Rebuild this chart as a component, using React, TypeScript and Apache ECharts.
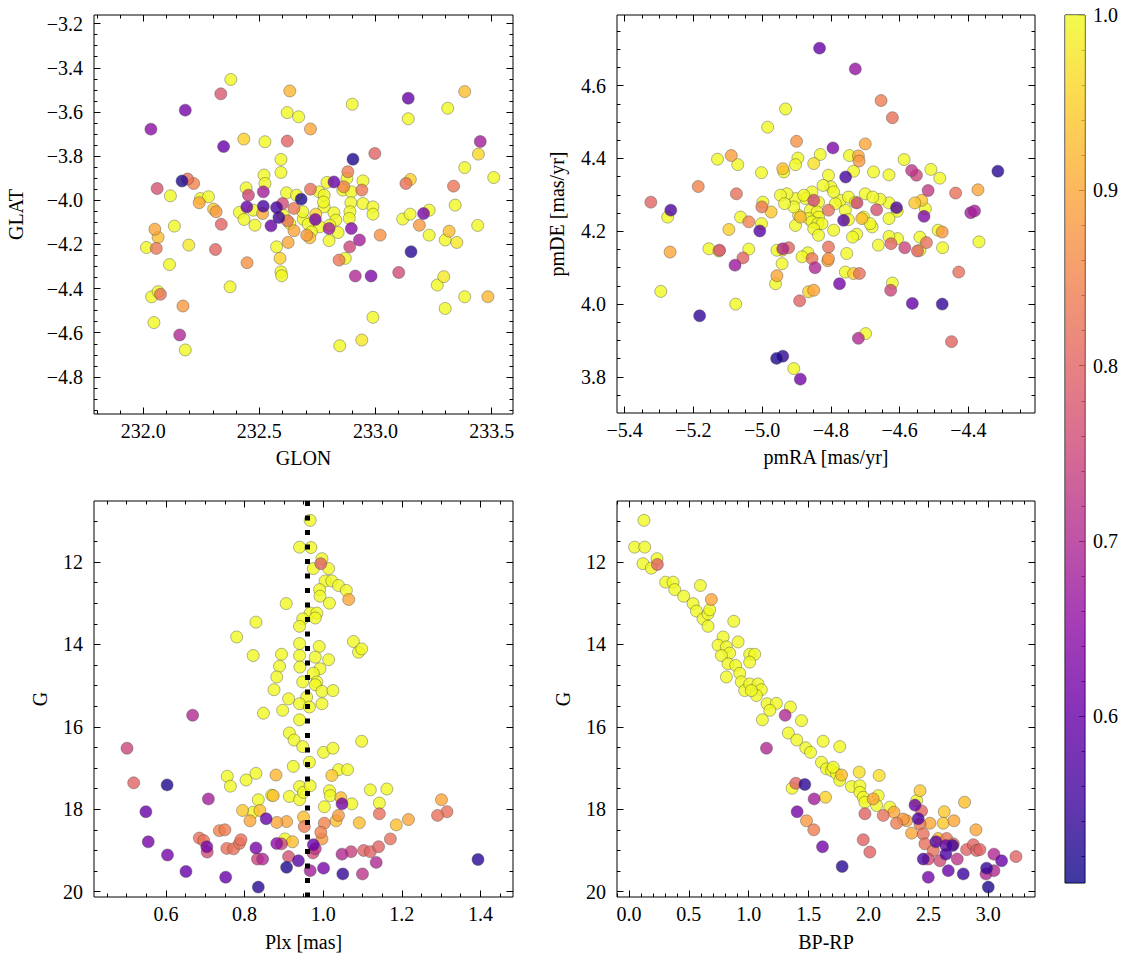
import React, { useEffect, useRef } from "react";
import * as echarts from "echarts";

const FONT = "Liberation Serif";

const PLASMA = ["#0d0887", "#41049d", "#6a00a8", "#8f0da4", "#b12a90", "#cc4778", "#e16462", "#f2844b", "#fca636", "#fcce25", "#f0f921"];
const PROB_MIN = 0.505;
const PROB_MAX = 1.0;

const glonTicks = [232.0, 232.5, 233.0, 233.5];
const glatTicks = [-4.8, -4.6, -4.4, -4.2, -4.0, -3.8, -3.6, -3.4, -3.2];
const pmraTicks = [-5.4, -5.2, -5.0, -4.8, -4.6, -4.4];
const pmdeTicks = [3.8, 4.0, 4.2, 4.4, 4.6];
const plxTicks = [0.6, 0.8, 1.0, 1.2, 1.4];
const gTicks = [12, 14, 16, 18, 20];
const bprpTicks = [0, 0.5, 1.0, 1.5, 2.0, 2.5, 3.0];
const cbarTicks = [0.6, 0.7, 0.8, 0.9, 1.0];
const PLX_REF = 0.962;

// [GLON, GLAT, prob]
const glonGlat = [
  [232.377, -3.453, 1.0], [232.631, -3.505, 0.92], [232.334, -3.518, 0.78], [232.181, -3.592, 0.62],
  [232.033, -3.678, 0.65], [232.62, -3.603, 1.0], [232.669, -3.622, 1.0], [232.72, -3.677, 0.9],
  [232.346, -3.757, 0.6], [232.433, -3.723, 0.95], [232.524, -3.735, 1.0], [232.62, -3.732, 0.8],
  [232.9, -3.565, 1.0], [233.141, -3.538, 0.6], [233.141, -3.631, 1.0], [233.311, -3.583, 1.0],
  [233.384, -3.508, 0.93], [233.451, -3.734, 0.68], [233.443, -3.791, 0.96], [232.997, -3.788, 0.8],
  [232.903, -3.814, 0.52], [232.593, -3.815, 1.0], [232.593, -3.874, 1.0], [232.167, -3.913, 0.52],
  [232.191, -3.904, 0.82], [232.217, -3.924, 0.85], [232.06, -3.947, 0.77], [232.117, -3.98, 1.0],
  [232.246, -3.992, 1.0], [232.281, -3.984, 1.0], [232.241, -4.011, 0.9], [232.303, -4.04, 0.94],
  [232.314, -4.052, 0.88], [232.336, -4.109, 0.8], [232.134, -4.117, 1.0], [232.05, -4.131, 0.9],
  [232.064, -4.168, 0.93], [232.014, -4.214, 1.0], [232.056, -4.218, 0.83], [232.196, -4.203, 0.98],
  [232.113, -4.291, 1.0], [232.311, -4.223, 0.8], [232.447, -4.283, 0.87], [232.374, -4.392, 1.0],
  [232.036, -4.437, 1.0], [232.064, -4.414, 1.0], [232.074, -4.426, 0.82], [232.171, -4.479, 0.88],
  [232.046, -4.554, 1.0], [232.157, -4.61, 0.7], [232.181, -4.678, 1.0], [232.443, -3.944, 1.0],
  [232.453, -3.977, 0.75], [232.446, -4.03, 0.6], [232.414, -4.055, 1.0], [232.434, -4.087, 1.0],
  [232.481, -4.113, 1.0], [232.52, -3.886, 1.0], [232.524, -3.924, 1.0], [232.517, -3.962, 0.68],
  [232.517, -4.027, 0.56], [232.514, -4.06, 0.9], [232.574, -4.033, 0.56], [232.584, -4.078, 0.55],
  [232.55, -4.116, 0.6], [232.6, -4.015, 0.76], [232.617, -3.966, 1.0], [232.649, -4.037, 0.83],
  [232.621, -4.093, 0.82], [232.631, -4.105, 1.0], [232.66, -3.977, 1.0], [232.68, -3.995, 0.52],
  [232.689, -4.086, 1.0], [232.72, -3.95, 0.82], [232.757, -3.962, 1.0], [232.779, -3.977, 1.0],
  [232.779, -4.03, 1.0], [232.743, -4.063, 0.95], [232.741, -4.087, 0.62], [232.71, -4.108, 1.0],
  [232.649, -4.138, 0.9], [232.704, -4.158, 0.88], [232.717, -4.17, 0.93], [232.624, -4.191, 0.9],
  [232.574, -4.211, 1.0], [232.589, -4.263, 0.95], [232.593, -4.324, 1.0], [232.596, -4.342, 1.0],
  [232.791, -3.919, 1.0], [232.821, -3.917, 0.6], [232.859, -3.954, 1.0], [232.863, -3.939, 0.85],
  [232.881, -3.871, 0.84], [232.877, -3.901, 1.0], [232.896, -3.962, 1.0], [232.894, -4.011, 1.0],
  [232.89, -4.052, 1.0], [232.887, -4.082, 1.0], [232.821, -4.057, 1.0], [232.829, -4.09, 1.0],
  [232.803, -4.113, 1.0], [232.8, -4.128, 0.68], [232.839, -4.146, 1.0], [232.8, -4.183, 1.0],
  [232.896, -4.128, 0.64], [232.931, -4.18, 0.68], [232.889, -4.211, 0.75], [232.87, -4.263, 1.0],
  [232.843, -4.271, 0.83], [232.913, -4.343, 0.7], [232.981, -4.343, 0.63], [232.946, -3.912, 1.0],
  [232.941, -3.954, 0.83], [232.946, -4.015, 1.0], [232.989, -4.03, 1.0], [232.989, -4.063, 1.0],
  [233.02, -4.158, 0.87], [232.846, -4.659, 1.0], [232.941, -4.633, 0.98], [232.989, -4.53, 1.0],
  [233.1, -4.327, 0.76], [233.153, -4.233, 0.53], [233.131, -3.924, 0.82], [233.15, -3.906, 0.95],
  [233.117, -4.085, 1.0], [233.149, -4.063, 1.0], [233.189, -4.113, 0.88], [233.207, -4.06, 0.62],
  [233.231, -4.045, 1.0], [233.231, -4.158, 1.0], [233.3, -4.18, 1.0], [233.317, -4.14, 0.93],
  [233.35, -4.191, 0.98], [233.336, -3.936, 0.83], [233.343, -4.022, 1.0], [233.384, -3.852, 1.0],
  [233.509, -3.897, 1.0], [233.44, -4.114, 1.0], [233.266, -4.384, 1.0], [233.294, -4.346, 0.98],
  [233.3, -4.49, 1.0], [233.384, -4.437, 1.0], [233.484, -4.437, 0.92], [232.603, -4.068, 1.0],
  [232.687, -4.052, 1.0], [232.776, -4.008, 1.0], [232.474, -4.045, 1.0], [232.76, -4.12, 1.0],
  [232.724, -4.143, 1.0],
];

// [pmRA, pmDE, prob]
const pmraPmde = [
  [-4.833, 4.703, 0.6], [-4.729, 4.646, 0.66], [-4.654, 4.559, 0.84], [-4.621, 4.512, 0.82],
  [-4.932, 4.536, 1.0], [-4.984, 4.486, 1.0], [-4.9, 4.447, 0.87], [-4.794, 4.429, 0.63],
  [-4.7, 4.44, 0.9], [-5.13, 4.398, 1.0], [-5.09, 4.408, 0.89], [-5.071, 4.383, 1.0],
  [-4.896, 4.401, 1.0], [-4.831, 4.411, 1.0], [-4.85, 4.386, 0.97], [-4.94, 4.372, 0.93],
  [-4.937, 4.363, 1.0], [-4.903, 4.383, 1.0], [-5.002, 4.361, 1.0], [-4.746, 4.408, 1.0],
  [-4.72, 4.407, 0.9], [-4.718, 4.393, 0.88], [-4.734, 4.365, 1.0], [-4.676, 4.363, 1.0],
  [-4.631, 4.355, 1.0], [-4.757, 4.349, 0.56], [-4.807, 4.354, 1.0], [-4.587, 4.397, 1.0],
  [-4.565, 4.367, 0.72], [-4.551, 4.354, 0.75], [-4.509, 4.37, 1.0], [-4.483, 4.346, 1.0],
  [-4.517, 4.312, 0.73], [-4.314, 4.365, 0.53], [-4.372, 4.314, 0.9], [-4.437, 4.305, 0.82],
  [-4.393, 4.251, 0.68], [-4.382, 4.256, 0.68], [-4.369, 4.171, 1.0], [-4.476, 4.198, 0.88],
  [-4.488, 4.203, 1.0], [-4.475, 4.155, 1.0], [-4.522, 4.169, 0.82], [-4.541, 4.184, 1.0],
  [-4.548, 4.146, 0.8], [-4.541, 4.148, 1.0], [-4.585, 4.155, 0.75], [-4.529, 4.241, 0.63],
  [-4.525, 4.262, 1.0], [-4.536, 4.285, 0.94], [-4.556, 4.278, 0.94], [-4.609, 4.265, 0.57],
  [-4.607, 4.255, 1.0], [-4.606, 4.18, 1.0], [-4.625, 4.166, 0.8], [-4.631, 4.186, 1.0],
  [-4.631, 4.235, 1.0], [-4.631, 4.278, 1.0], [-4.657, 4.288, 1.0], [-4.667, 4.259, 0.77],
  [-4.662, 4.162, 1.0], [-4.621, 4.058, 1.0], [-4.626, 4.038, 0.75], [-4.563, 4.002, 0.6],
  [-4.476, 4.0, 0.54], [-4.428, 4.088, 0.82], [-4.449, 3.897, 0.8], [-4.699, 3.919, 1.0],
  [-4.72, 3.906, 0.7], [-4.717, 4.084, 0.82], [-4.734, 4.084, 0.95], [-4.758, 4.088, 1.0],
  [-4.775, 4.056, 0.62], [-4.754, 4.139, 1.0], [-4.792, 4.203, 1.0], [-4.807, 4.157, 0.82],
  [-4.807, 4.125, 0.88], [-4.809, 4.119, 0.9], [-4.846, 4.1, 0.7], [-4.855, 4.125, 0.83],
  [-4.867, 4.141, 1.0], [-4.865, 4.034, 0.95], [-4.85, 4.038, 0.9], [-4.891, 4.009, 0.8],
  [-4.763, 4.23, 0.58], [-4.758, 4.258, 1.0], [-4.749, 4.232, 1.0], [-4.773, 4.285, 1.0],
  [-4.749, 4.294, 1.0], [-4.729, 4.28, 1.0], [-4.724, 4.278, 0.75], [-4.71, 4.235, 0.93],
  [-4.705, 4.239, 1.0], [-4.725, 4.192, 1.0], [-4.68, 4.212, 1.0], [-4.686, 4.221, 1.0],
  [-4.7, 4.303, 1.0], [-4.678, 4.294, 1.0], [-4.807, 4.258, 0.82], [-4.8, 4.322, 1.0],
  [-4.823, 4.326, 1.0], [-4.787, 4.276, 1.0], [-4.792, 4.308, 1.0], [-4.836, 4.28, 1.0],
  [-4.855, 4.308, 1.0], [-4.85, 4.285, 0.76], [-4.874, 4.29, 1.0], [-4.86, 4.258, 1.0],
  [-4.84, 4.253, 1.0], [-4.836, 4.239, 1.0], [-4.865, 4.235, 1.0], [-4.855, 4.226, 1.0],
  [-4.838, 4.221, 1.0], [-4.826, 4.221, 1.0], [-4.85, 4.207, 1.0], [-4.836, 4.189, 1.0],
  [-4.889, 4.239, 0.92], [-4.894, 4.244, 1.0], [-4.903, 4.29, 1.0], [-4.908, 4.267, 1.0],
  [-4.903, 4.216, 1.0], [-4.879, 4.299, 1.0], [-4.928, 4.303, 1.0], [-4.947, 4.299, 1.0],
  [-4.935, 4.276, 1.0], [-4.942, 4.148, 1.0], [-4.957, 4.148, 1.0], [-4.942, 4.111, 1.0],
  [-4.94, 4.152, 0.7], [-4.923, 4.155, 0.8], [-4.957, 4.078, 0.9], [-4.961, 4.056, 1.0],
  [-4.998, 4.28, 1.0], [-5.001, 4.267, 0.83], [-4.974, 4.253, 0.94], [-5.002, 4.221, 1.0],
  [-5.007, 4.201, 0.58], [-5.063, 4.239, 1.0], [-5.039, 4.226, 0.85], [-5.097, 4.205, 0.95],
  [-5.039, 4.151, 1.0], [-5.056, 4.127, 0.8], [-5.079, 4.107, 0.67], [-5.077, 4.0, 1.0],
  [-5.075, 4.303, 0.82], [-5.126, 4.146, 0.98], [-5.124, 4.148, 0.76], [-5.155, 4.152, 1.0],
  [-5.186, 4.323, 0.85], [-5.182, 3.968, 0.54], [-5.266, 4.258, 0.57], [-5.275, 4.239, 1.0],
  [-5.268, 4.143, 0.9], [-5.295, 4.035, 1.0], [-5.324, 4.28, 0.8], [-4.958, 3.851, 0.52],
  [-4.94, 3.857, 0.54], [-4.908, 3.823, 1.0], [-4.889, 3.794, 0.62], [-4.737, 4.184, 1.0],
  [-4.884, 4.13, 1.0],
];

// [Plx, G, prob]
const plxG = [
  [0.967, 10.99, 1.0], [0.94, 11.64, 1.0], [0.969, 11.65, 1.0], [0.997, 11.92, 1.0],
  [0.994, 12.04, 0.8], [1.014, 12.16, 1.0], [0.975, 12.16, 1.0], [1.005, 12.46, 1.0],
  [1.022, 12.46, 1.0], [1.039, 12.57, 1.0], [1.059, 12.69, 1.0], [1.065, 12.91, 0.9],
  [0.991, 12.67, 1.0], [0.992, 12.83, 1.0], [1.016, 13.0, 1.0], [0.906, 13.01, 1.0],
  [0.967, 13.24, 1.0], [0.984, 13.24, 1.0], [0.98, 13.36, 1.0], [0.948, 13.38, 1.0],
  [0.94, 13.56, 1.0], [0.829, 13.46, 1.0], [0.78, 13.82, 1.0], [0.94, 13.98, 1.0],
  [0.99, 14.05, 1.0], [1.077, 13.93, 1.0], [1.09, 14.19, 1.0], [1.098, 14.11, 1.0],
  [0.822, 14.27, 1.0], [0.894, 14.24, 1.0], [0.94, 14.27, 1.0], [0.98, 14.31, 1.0],
  [1.014, 14.37, 1.0], [0.889, 14.53, 1.0], [0.941, 14.55, 1.0], [0.992, 14.59, 1.0],
  [0.882, 14.79, 1.0], [0.975, 14.7, 1.0], [0.948, 14.91, 1.0], [0.984, 14.91, 1.0],
  [0.98, 14.98, 1.0], [0.875, 15.1, 1.0], [0.997, 15.14, 1.0], [1.025, 15.12, 1.0],
  [0.958, 15.28, 1.0], [0.912, 15.32, 1.0], [0.94, 15.44, 1.0], [0.965, 15.52, 1.0],
  [0.997, 15.44, 1.0], [0.848, 15.67, 1.0], [0.897, 15.6, 1.0], [0.94, 15.83, 1.0],
  [0.668, 15.72, 0.7], [0.914, 16.15, 1.0], [0.926, 16.32, 1.0], [0.948, 16.48, 1.0],
  [1.001, 16.62, 1.0], [1.025, 16.52, 1.0], [1.098, 16.35, 1.0], [0.501, 16.52, 0.75],
  [0.924, 16.96, 1.0], [0.965, 16.86, 1.0], [1.039, 17.04, 1.0], [1.062, 17.04, 1.0],
  [1.022, 17.18, 0.94], [0.756, 17.2, 1.0], [0.764, 17.44, 1.0], [0.804, 17.29, 1.0],
  [0.829, 17.13, 1.0], [0.88, 17.17, 0.92], [0.518, 17.36, 0.8], [0.603, 17.41, 0.52],
  [0.708, 17.75, 0.68], [0.835, 17.77, 1.0], [0.873, 17.67, 0.93], [0.869, 17.66, 1.0],
  [0.914, 17.69, 1.0], [0.94, 17.45, 1.0], [0.94, 17.77, 1.0], [0.95, 17.59, 1.0],
  [0.967, 17.43, 1.0], [1.016, 17.55, 1.0], [1.018, 17.67, 1.0], [1.045, 17.72, 0.93],
  [1.048, 17.87, 0.62], [1.073, 17.87, 1.0], [1.12, 17.53, 1.0], [1.162, 17.51, 1.0],
  [1.143, 17.85, 1.0], [1.301, 17.77, 0.9], [1.315, 18.06, 0.82], [1.291, 18.15, 0.82],
  [1.143, 18.11, 0.82], [1.217, 18.25, 0.9], [1.186, 18.38, 0.93], [1.092, 18.33, 0.93],
  [1.003, 17.94, 1.0], [1.039, 18.15, 0.88], [1.033, 18.28, 0.93], [1.003, 18.34, 0.85],
  [0.994, 18.56, 0.85], [0.997, 18.72, 0.88], [0.95, 18.19, 0.93], [0.952, 18.42, 0.84],
  [0.907, 18.3, 0.9], [0.882, 18.32, 0.9], [0.855, 18.23, 0.6], [0.839, 18.03, 0.93],
  [0.795, 18.03, 0.94], [0.814, 18.28, 0.9], [0.822, 18.07, 1.0], [0.549, 18.06, 0.6],
  [0.736, 18.52, 0.85], [0.75, 18.5, 0.84], [0.685, 18.7, 0.82], [0.696, 18.76, 0.82],
  [0.555, 18.79, 0.62], [0.704, 18.91, 0.62], [0.705, 19.04, 0.76], [0.604, 19.11, 0.62],
  [0.755, 18.95, 0.82], [0.772, 18.96, 0.82], [0.787, 18.83, 0.82], [0.791, 18.74, 0.82],
  [0.829, 18.94, 0.62], [0.833, 19.21, 0.75], [0.846, 19.21, 0.7], [0.882, 18.83, 0.65],
  [0.894, 18.84, 0.75], [0.922, 18.79, 0.93], [0.903, 18.72, 1.0], [0.912, 19.15, 0.77],
  [0.907, 19.41, 0.52], [0.937, 19.25, 0.58], [0.975, 18.86, 0.6], [0.98, 18.96, 0.72],
  [0.974, 19.06, 0.76], [0.967, 19.49, 0.68], [1.001, 19.43, 0.62], [1.048, 19.09, 0.7],
  [1.071, 19.03, 0.74], [1.05, 19.57, 0.54], [1.103, 19.0, 0.8], [1.12, 19.03, 0.8],
  [1.141, 18.91, 0.8], [1.135, 19.29, 0.7], [1.171, 18.72, 0.82], [1.1, 19.57, 0.72],
  [1.394, 19.22, 0.53], [0.651, 19.51, 0.6], [0.752, 19.65, 0.6], [0.835, 19.89, 0.53],
];

// [BP-RP, G, prob]
const bprpG = [
  [0.125, 10.99, 1.0], [0.047, 11.64, 1.0], [0.131, 11.64, 1.0], [0.117, 12.04, 1.0],
  [0.187, 12.15, 1.0], [0.234, 11.92, 1.0], [0.237, 12.06, 0.8], [0.306, 12.49, 1.0],
  [0.368, 12.49, 1.0], [0.382, 12.67, 1.0], [0.457, 12.83, 1.0], [0.596, 12.57, 1.0],
  [0.688, 12.91, 0.9], [0.535, 13.01, 1.0], [0.563, 13.19, 1.0], [0.618, 13.38, 1.0],
  [0.66, 13.26, 1.0], [0.674, 13.16, 1.0], [0.66, 13.56, 1.0], [0.875, 13.44, 1.0],
  [0.786, 13.82, 1.0], [0.744, 14.02, 1.0], [0.813, 14.06, 1.0], [0.841, 14.21, 1.0],
  [0.911, 13.94, 1.0], [1.008, 14.24, 1.0], [1.05, 14.24, 1.0], [1.008, 14.43, 1.0],
  [0.772, 14.27, 1.0], [0.827, 14.47, 1.0], [0.891, 14.51, 1.0], [0.925, 14.7, 1.0],
  [0.813, 14.79, 1.0], [0.938, 14.91, 1.0], [0.966, 15.12, 1.0], [1.008, 14.96, 1.0],
  [1.077, 14.96, 1.0], [1.105, 15.1, 1.0], [1.064, 15.24, 1.0], [1.022, 15.12, 1.0],
  [1.153, 15.44, 1.0], [1.231, 15.43, 1.0], [1.114, 15.83, 1.0], [1.176, 15.6, 1.0],
  [1.348, 15.52, 1.0], [1.304, 15.72, 0.7], [1.44, 15.85, 1.0], [1.331, 16.15, 1.0],
  [1.401, 16.32, 1.0], [1.476, 16.51, 1.0], [1.516, 16.62, 1.0], [1.148, 16.52, 0.7],
  [1.621, 16.35, 1.0], [1.76, 16.48, 1.0], [1.607, 16.86, 1.0], [1.649, 17.02, 1.0],
  [1.691, 17.06, 1.0], [1.733, 17.14, 1.0], [1.775, 17.17, 0.93], [1.76, 17.3, 1.0],
  [1.705, 16.98, 1.0], [1.922, 17.1, 0.97], [2.089, 17.18, 0.97], [1.858, 17.45, 1.0],
  [1.928, 17.43, 1.0], [1.928, 17.59, 1.0], [1.956, 17.71, 1.0], [1.97, 17.83, 1.0],
  [2.039, 17.75, 0.9], [2.081, 17.67, 1.0], [2.067, 17.91, 1.0], [1.362, 17.49, 1.0],
  [1.393, 17.37, 0.8], [1.468, 17.4, 0.53], [1.641, 17.71, 0.95], [1.546, 17.75, 0.68],
  [1.404, 18.06, 0.62], [1.482, 18.28, 0.88], [1.543, 18.5, 0.84], [1.616, 18.91, 0.62],
  [1.78, 19.39, 0.53], [1.97, 18.11, 0.8], [1.956, 18.74, 0.8], [2.011, 19.04, 0.8],
  [2.123, 18.15, 0.82], [2.178, 17.95, 1.0], [2.212, 18.07, 0.9], [2.234, 18.34, 0.84],
  [2.318, 18.28, 0.9], [2.36, 18.58, 0.9], [2.43, 17.55, 0.94], [2.402, 17.79, 1.0],
  [2.388, 17.9, 0.6], [2.443, 18.04, 0.8], [2.415, 18.23, 0.57], [2.43, 18.36, 0.83],
  [2.513, 18.34, 0.9], [2.457, 18.6, 0.82], [2.471, 18.84, 0.82], [2.457, 19.21, 0.56],
  [2.499, 19.65, 0.62], [2.499, 19.21, 0.76], [2.563, 18.79, 0.58], [2.582, 18.71, 0.92],
  [2.632, 18.06, 0.94], [2.624, 18.34, 0.94], [2.713, 18.28, 0.9], [2.802, 17.83, 0.93],
  [2.897, 18.5, 0.9], [2.652, 18.71, 0.83], [2.708, 18.84, 0.82], [2.646, 18.88, 0.6],
  [2.702, 18.88, 0.55], [2.646, 19.09, 0.57], [2.596, 19.25, 0.76], [2.666, 19.49, 0.6],
  [2.741, 19.21, 0.72], [2.791, 19.57, 0.55], [2.819, 18.98, 0.8], [2.875, 18.86, 0.8],
  [2.902, 19.0, 0.8], [2.93, 18.98, 0.8], [2.986, 19.43, 0.54], [2.981, 19.57, 0.7],
  [3.047, 19.49, 0.7], [3.047, 19.09, 0.7], [3.111, 19.25, 0.6], [3.231, 19.15, 0.8],
  [3.0, 19.89, 0.52], [2.541, 19.0, 0.82], [2.29, 18.24, 0.88],
];

const TEXT = { fontFamily: FONT, fontSize: 20, color: "#000" };

function minorTicks(min: number, max: number, step: number, majors: number[]) {
  const out: number[] = [];
  const start = Math.ceil(min / step - 1e-9);
  const end = Math.floor(max / step + 1e-9);
  for (let k = start; k <= end; k++) {
    const v = +(k * step).toFixed(6);
    if (!majors.some((m) => Math.abs(m - v) < step / 10)) out.push(v);
  }
  return out;
}

function fmt(dec: number) {
  return (v: any) => Number(v).toFixed(dec).replace("-", "\u2212");
}

type Spec = {
  min: number; max: number; majors: number[]; minorStep: number; decimals: number;
  name: string; nameGap: number; inverse?: boolean;
};

function makeAxes(dim: "x" | "y", gridIndex: number, spec: Spec, list: any[]) {
  const positions = dim === "x" ? ["bottom", "top"] : ["left", "right"];
  const minors = minorTicks(spec.min, spec.max, spec.minorStep, spec.majors);
  let main = -1;
  positions.forEach((position, pi) => {
    [true, false].forEach((major) => {
      const primary = pi === 0 && major;
      if (primary) main = list.length;
      list.push({
        type: "value",
        gridIndex,
        position,
        min: spec.min,
        max: spec.max,
        inverse: !!spec.inverse,
        silent: true,
        axisLine: { show: false, onZero: false },
        splitLine: { show: false },
        axisTick: {
          show: true,
          inside: true,
          length: major ? 6.5 : 3.5,
          customValues: major ? spec.majors : minors,
          lineStyle: { color: "#000", width: 1 },
        },
        axisLabel: primary
          ? { show: true, customValues: spec.majors, formatter: fmt(spec.decimals), margin: dim === "x" ? 7 : 11, ...TEXT }
          : { show: false },
        name: primary ? spec.name : "",
        nameLocation: "middle",
        nameGap: spec.nameGap,
        nameTextStyle: { ...TEXT },
      });
    });
  });
  return main;
}

const sortByProbDesc = (arr: number[][]) => [...arr].sort((a, b) => b[2] - a[2]);

export default function App() {
  const ref = useRef<HTMLDivElement>(null);

  useEffect(() => {
    if (!ref.current) return;
    const chart = echarts.init(ref.current, null, { renderer: "svg" });

    const gridBase = { show: true, borderColor: "#000", borderWidth: 1, backgroundColor: "transparent", containLabel: false, outerBoundsMode: "none" };
    const grids = [
      { left: 94, top: 15, width: 419, height: 399 },
      { left: 617, top: 15, width: 418, height: 398 },
      { left: 94, top: 501, width: 419, height: 396 },
      { left: 617, top: 501, width: 418, height: 396 },
      { left: 1065, top: 15, width: 20, height: 868 },
    ].map((g) => ({ ...gridBase, ...g }));

    const xAxes: any[] = [];
    const yAxes: any[] = [];

    const gSpec = { min: 10.52, max: 20.13, majors: gTicks, minorStep: 0.5, decimals: 0, inverse: true };

    const x0 = makeAxes("x", 0, { min: 231.788, max: 233.592, majors: glonTicks, minorStep: 0.1, decimals: 1, name: "GLON", nameGap: 34 }, xAxes);
    const y0 = makeAxes("y", 0, { min: -4.968, max: -3.161, majors: glatTicks, minorStep: 0.05, decimals: 1, name: "GLAT", nameGap: 68 }, yAxes);
    const x1 = makeAxes("x", 1, { min: -5.4225, max: -4.206, majors: pmraTicks, minorStep: 0.05, decimals: 1, name: "pmRA [mas/yr]", nameGap: 34 }, xAxes);
    const y1 = makeAxes("y", 1, { min: 3.701, max: 4.794, majors: pmdeTicks, minorStep: 0.05, decimals: 1, name: "pmDE [mas/yr]", nameGap: 50 }, yAxes);
    const x2 = makeAxes("x", 2, { min: 0.417, max: 1.483, majors: plxTicks, minorStep: 0.05, decimals: 1, name: "Plx [mas]", nameGap: 35 }, xAxes);
    const y2 = makeAxes("y", 2, { ...gSpec, name: "G", nameGap: 44 }, yAxes);
    const x3 = makeAxes("x", 3, { min: -0.1, max: 3.39, majors: bprpTicks, minorStep: 0.1, decimals: 1, name: "BP-RP", nameGap: 35 }, xAxes);
    const y3 = makeAxes("y", 3, { ...gSpec, name: "G", nameGap: 44 }, yAxes);

    // colorbar axes
    const cbX = xAxes.length;
    xAxes.push({ type: "category", gridIndex: 4, data: ["p"], show: false, boundaryGap: true });
    const cbY = yAxes.length;
    const cbMinors = minorTicks(PROB_MIN, PROB_MAX, 0.02, cbarTicks);
    [true, false].forEach((major) => {
      yAxes.push({
        type: "value",
        gridIndex: 4,
        position: "right",
        min: PROB_MIN,
        max: PROB_MAX,
        silent: true,
        axisLine: { show: false, onZero: false },
        splitLine: { show: false },
        axisTick: {
          show: true,
          inside: true,
          length: major ? 6 : 3.5,
          customValues: major ? cbarTicks : cbMinors,
          lineStyle: { color: "#000", width: 1 },
        },
        axisLabel: major
          ? { show: true, customValues: cbarTicks, formatter: fmt(1), margin: 8, ...TEXT }
          : { show: false },
      });
    });

    const scatterBase = {
      type: "scatter",
      symbol: "circle",
      symbolSize: 12,
      silent: true,
      itemStyle: { opacity: 0.8, borderColor: "#404040", borderWidth: 0.5 },
    };

    const gradientStops = [...PLASMA].reverse().map((c, i) => ({ offset: i / (PLASMA.length - 1), color: c }));

    const option: any = {
      animation: false,
      backgroundColor: "#fff",
      textStyle: { fontFamily: FONT, fontSize: 20, color: "#000" },
      grid: grids,
      xAxis: xAxes,
      yAxis: yAxes,
      visualMap: {
        type: "continuous",
        show: false,
        min: PROB_MIN,
        max: PROB_MAX,
        dimension: 2,
        seriesIndex: [0, 1, 2, 3],
        inRange: { color: PLASMA },
      },
      series: [
        { ...scatterBase, xAxisIndex: x0, yAxisIndex: y0, data: sortByProbDesc(glonGlat) },
        { ...scatterBase, xAxisIndex: x1, yAxisIndex: y1, data: sortByProbDesc(pmraPmde) },
        {
          ...scatterBase,
          xAxisIndex: x2,
          yAxisIndex: y2,
          data: sortByProbDesc(plxG),
          markLine: {
            silent: true,
            symbol: "none",
            label: { show: false },
            lineStyle: { color: "#000", width: 5, type: [5, 9.5], cap: "butt", opacity: 1 },
            data: [{ xAxis: PLX_REF }],
          },
        },
        { ...scatterBase, xAxisIndex: x3, yAxisIndex: y3, data: sortByProbDesc(bprpG) },
        {
          type: "bar",
          xAxisIndex: cbX,
          yAxisIndex: cbY,
          stack: "cb",
          silent: true,
          barWidth: "100%",
          itemStyle: { color: "rgba(0,0,0,0)" },
          data: [PROB_MIN],
        },
        {
          type: "bar",
          xAxisIndex: cbX,
          yAxisIndex: cbY,
          stack: "cb",
          silent: true,
          barWidth: "100%",
          itemStyle: {
            opacity: 0.8,
            color: new echarts.graphic.LinearGradient(0, 0, 0, 1, gradientStops),
          },
          data: [PROB_MAX - PROB_MIN],
        },
      ],
    };

    chart.setOption(option);
    return () => chart.dispose();
  }, []);

  return (
    <div
      ref={ref}
      style={{ position: "fixed", left: 0, top: 0, width: 1133, height: 965, background: "#fff" }}
    />
  );
}
